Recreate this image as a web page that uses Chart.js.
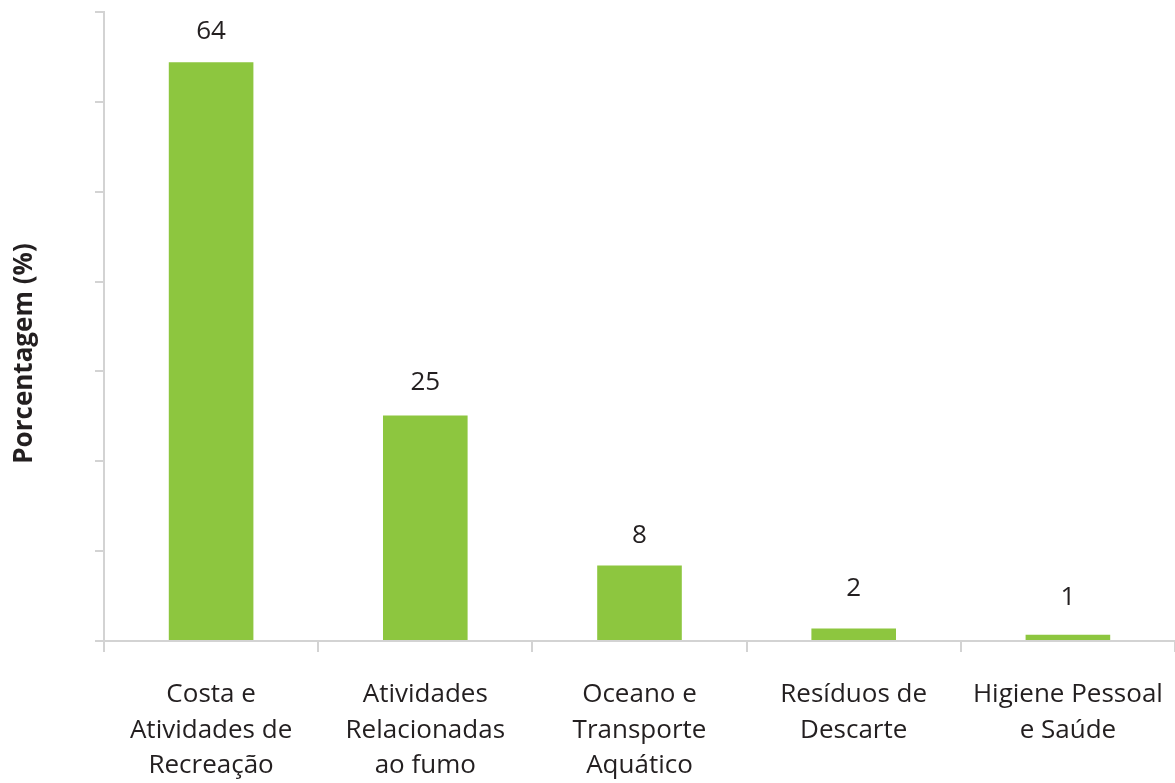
<!DOCTYPE html>
<html>
<head>
<meta charset="utf-8">
<script src="https://cdn.jsdelivr.net/npm/chart.js@4.4.1/dist/chart.umd.min.js"></script>
<style>
html,body{margin:0;padding:0;background:#fff;overflow:hidden;}
#wrap{width:1175px;height:783px;position:relative;}
</style>
</head>
<body>
<div id="wrap"><canvas id="c"></canvas></div>
<script>
const categories = [
  ["Costa e", "Atividades de", "Recreação"],
  ["Atividades", "Relacionadas", "ao fumo"],
  ["Oceano e", "Transporte", "Aquático"],
  ["Resíduos de", "Descarte"],
  ["Higiene Pessoal", "e Saúde"]
];
const barValues = [64.4, 25.1, 8.4, 1.4, 0.7];
const valueLabels = [64, 25, 8, 2, 1];
const yAxisTitle = "Porcentagem (%)";
const yMin = 0, yMax = 70, yStep = 10;

const FONT = "'Open Sans', 'DejaVu Sans', sans-serif";
const TEXT = "#231f20";
const AXIS = "#d3d3d3";

const valueLabelPlugin = {
  id: 'valueLabels',
  afterDatasetsDraw(chart) {
    const ctx = chart.ctx;
    const meta = chart.getDatasetMeta(0);
    const ys = chart.scales.y;
    ctx.save();
    ctx.font = "26px " + FONT;
    ctx.fillStyle = TEXT;
    ctx.textAlign = 'center';
    ctx.textBaseline = 'middle';
    meta.data.forEach((bar, i) => {
      const y = ys.getPixelForValue(valueLabels[i]) - 34;
      ctx.fillText(String(valueLabels[i]), bar.x, y);
    });
    ctx.restore();
  }
};

const yTitlePlugin = {
  id: 'yTitle',
  afterDraw(chart) {
    const ctx = chart.ctx;
    const a = chart.chartArea;
    ctx.save();
    ctx.translate(25, (a.top + a.bottom) / 2 + 27);
    ctx.rotate(-Math.PI / 2);
    ctx.font = "bold 26px " + FONT;
    ctx.fillStyle = TEXT;
    ctx.textAlign = 'center';
    ctx.textBaseline = 'middle';
    ctx.fillText(yAxisTitle, 0, 0);
    ctx.restore();
  }
};

new Chart(document.getElementById('c'), {
  type: 'bar',
  data: {
    labels: categories,
    datasets: [{
      data: barValues,
      backgroundColor: '#8dc63f',
      borderWidth: 0,
      categoryPercentage: 1.0,
      barPercentage: 0.395
    }]
  },
  options: {
    responsive: true,
    maintainAspectRatio: false,
    animation: false,
    layout: { padding: { top: 12, right: 0, bottom: 0, left: 0 } },
    plugins: { legend: { display: false }, tooltip: { enabled: false } },
    scales: {
      x: {
        grid: { drawOnChartArea: false, drawTicks: true, tickLength: 11, color: AXIS, lineWidth: 2 },
        border: { display: true, color: AXIS, width: 2 },
        ticks: {
          color: TEXT, padding: 25, maxRotation: 0, autoSkip: false,
          font: { family: FONT, size: 26, lineHeight: 1.37 }
        },
        afterFit(scale) {
          scale.height = 783 - 641;
          scale.paddingLeft = 0;
          scale.paddingRight = 0;
        }
      },
      y: {
        min: yMin, max: yMax,
        ticks: { display: false, stepSize: yStep },
        grid: { drawOnChartArea: false, drawTicks: true, tickLength: 9, color: AXIS, lineWidth: 2 },
        border: { display: true, color: AXIS, width: 2 },
        title: { display: false },
        afterFit(scale) { scale.width = 104; }
      }
    }
  },
  plugins: [valueLabelPlugin, yTitlePlugin]
});
</script>
</body>
</html>
